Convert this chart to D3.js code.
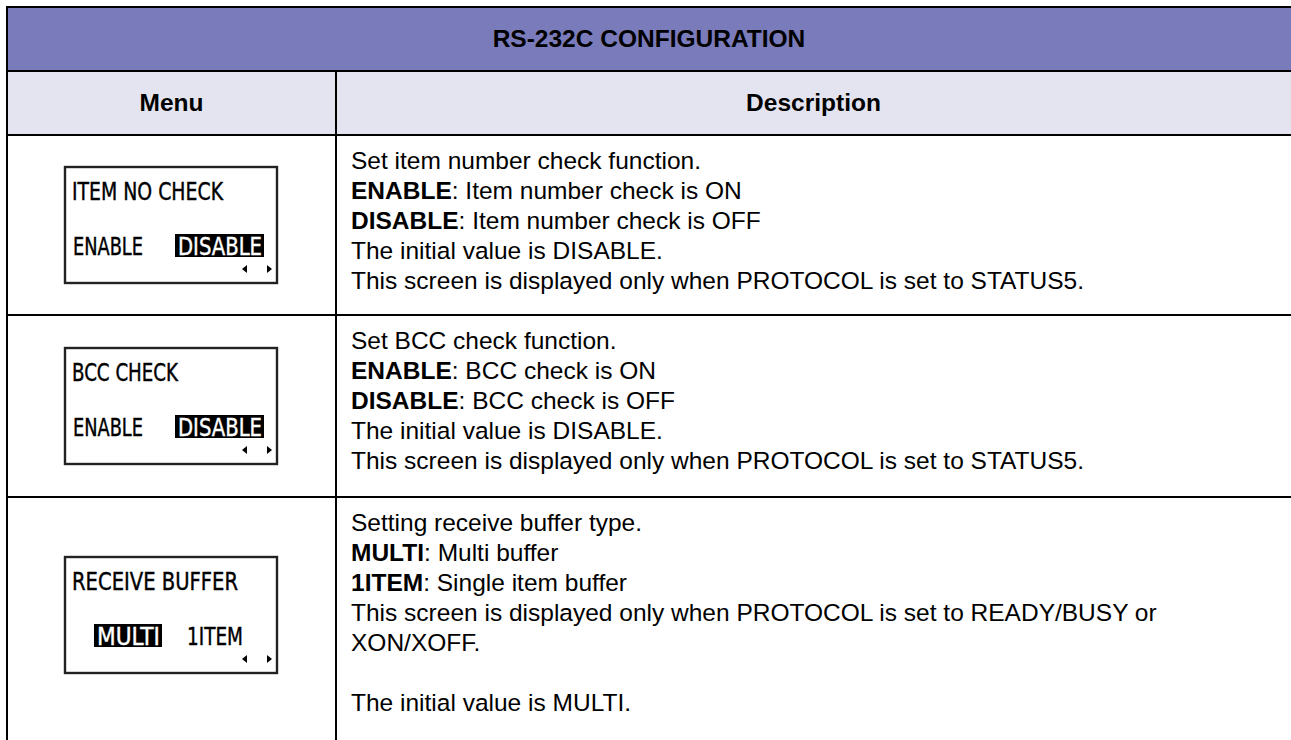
<!DOCTYPE html>
<html><head><meta charset="utf-8">
<script src="https://cdn.jsdelivr.net/npm/d3@7"></script>
<style>
html,body{margin:0;padding:0;background:#fff;}
svg{display:block;}
.txt{font-family:"Liberation Sans",Arial,sans-serif;}
.lcd{font-family:"Liberation Sans Narrow","DejaVu Sans Condensed","Roboto Condensed",sans-serif;}
</style></head>
<body>
<svg id="c" width="1291" height="740"></svg>
<script>
// ---- data ----
const tableTitle = "RS-232C CONFIGURATION";
const columnHeaders = ["Menu", "Description"];
const lcdTitles = ["ITEM NO CHECK", "BCC CHECK", "RECEIVE BUFFER"];
const lcdOptions = [["ENABLE", "DISABLE"], ["ENABLE", "DISABLE"], ["MULTI", "1ITEM"]];
const lcdSelected = [1, 1, 0];
const desc1 = [
  [["", "Set item number check function."]],
  [["ENABLE", ": Item number check is ON"]],
  [["DISABLE", ": Item number check is OFF"]],
  [["", "The initial value is DISABLE."]],
  [["", "This screen is displayed only when PROTOCOL is set to STATUS5."]]
];
const desc2 = [
  [["", "Set BCC check function."]],
  [["ENABLE", ": BCC check is ON"]],
  [["DISABLE", ": BCC check is OFF"]],
  [["", "The initial value is DISABLE."]],
  [["", "This screen is displayed only when PROTOCOL is set to STATUS5."]]
];
const desc3 = [
  [["", "Setting receive buffer type."]],
  [["MULTI", ": Multi buffer"]],
  [["1ITEM", ": Single item buffer"]],
  [["", "This screen is displayed only when PROTOCOL is set to READY/BUSY or"]],
  [["", "XON/XOFF."]],
  [["", ""]],
  [["", "The initial value is MULTI."]]
];
const descriptions = [desc1, desc2, desc3];

(function () {
const W = 1291, H = 740;
const FS = 24.5;
const svg = d3.select("#c");
const tLeft = 7, tRight = 1300, tTop = 7;
const titleBottom = 71, headBottom = 135;
const rowEdges = [135, 315, 497, 760];
const colX = d3.scaleOrdinal().domain(columnHeaders).range([tLeft, 336]);
const colEnd = d3.scaleOrdinal().domain(columnHeaders).range([336, W]);
const rowY = d3.scaleOrdinal().domain(d3.range(3)).range(rowEdges.slice(0, 3));
const rowEnd = d3.scaleOrdinal().domain(d3.range(3)).range(rowEdges.slice(1));
const lineY = d3.scaleLinear().domain([0, 1]).range([34, 64]);

svg.append("rect").attr("x", tLeft).attr("y", tTop).attr("width", tRight - tLeft).attr("height", titleBottom - tTop).attr("fill", "#7a7bba");
svg.append("rect").attr("x", tLeft).attr("y", titleBottom).attr("width", tRight - tLeft).attr("height", headBottom - titleBottom).attr("fill", "#e4e4f1");

svg.append("text").attr("class", "txt").attr("x", (tLeft + W) / 2).attr("y", 47)
  .attr("text-anchor", "middle").attr("font-weight", "bold").attr("font-size", FS).attr("fill", "#000")
  .text(tableTitle);

svg.selectAll(".colh").data(columnHeaders).enter().append("text")
  .attr("class", "txt colh")
  .attr("x", d => (colX(d) + colEnd(d)) / 2)
  .attr("y", 111).attr("text-anchor", "middle").attr("font-weight", "bold").attr("font-size", FS)
  .text(d => d);

const g = svg.append("g").attr("stroke", "#000").attr("stroke-width", 2);
[tTop, titleBottom, headBottom, rowEdges[1], rowEdges[2]].forEach(y => {
  g.append("line").attr("x1", tLeft).attr("x2", tRight).attr("y1", y).attr("y2", y);
});
g.append("line").attr("x1", tLeft).attr("x2", tLeft).attr("y1", tTop - 1).attr("y2", H + 10);
g.append("line").attr("x1", colX("Description")).attr("x2", colX("Description")).attr("y1", titleBottom).attr("y2", H + 10);

function lcdText(parent, str, x, y, len, color) {
  return parent.append("text").attr("class", "lcd").attr("x", x).attr("y", y).attr("font-size", 24)
    .attr("fill", color).attr("stroke", color).attr("stroke-width", 0.4)
    .attr("textLength", len).attr("lengthAdjust", "spacingAndGlyphs").text(str);
}

const boxW = 212, boxH = 116;
lcdTitles.forEach((t, i) => {
  const cy = (rowY(i) + Math.min(rowEnd(i), 732)) / 2;
  const bx = 65, by = Math.round(cy - boxH / 2);
  const gb = svg.append("g").attr("transform", `translate(${bx},${by})`);
  gb.append("rect").attr("x", 0).attr("y", 0).attr("width", boxW).attr("height", boxH)
    .attr("fill", "#fff").attr("stroke", "#222").attr("stroke-width", 2.4);
  const titleWidths = [151, 106, 166];
  lcdText(gb, t, 7, 33, titleWidths[i], "#000");
  const opts = lcdOptions[i];
  const optX = i === 2 ? [[32, 63], [122, 56]] : [[8, 70], [113, 84]];
  opts.forEach((o, j) => {
    const sel = lcdSelected[i] === j;
    if (sel) {
      gb.append("rect").attr("x", optX[j][0] - 3).attr("y", 67).attr("width", optX[j][1] + 5).attr("height", 23).attr("fill", "#000");
    }
    lcdText(gb, o, optX[j][0], 88, optX[j][1], sel ? "#fff" : "#000");
  });
  gb.append("path").attr("d", "M177,102 L182,98 L182,106 Z").attr("fill", "#000");
  gb.append("path").attr("d", "M202,98 L207,102 L202,106 Z").attr("fill", "#000");
});

descriptions.forEach((lines, i) => {
  const tx = svg.append("g").attr("class", "txt").attr("font-size", FS);
  lines.forEach((segs, k) => {
    const te = tx.append("text").attr("x", 351).attr("y", rowY(i) + lineY(k)).attr("fill", "#000");
    segs.forEach(s => {
      if (s[0]) te.append("tspan").attr("font-weight", "bold").text(s[0]);
      te.append("tspan").text(s[1]);
    });
  });
});
})();
</script>
</body></html>
